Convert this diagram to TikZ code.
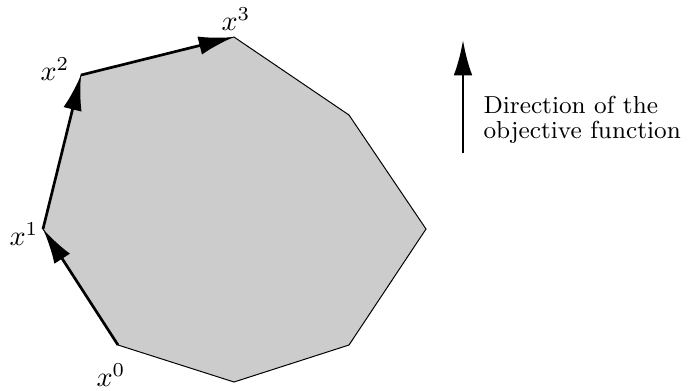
\documentclass[tikz,border=0pt]{standalone}
\usetikzlibrary{arrows.meta}
\begin{document}
\begin{tikzpicture}[x=0.354pt, y=-0.354pt,
    step arrow/.style={line width=0.95pt, -{Latex[length=12.5pt, width=6.6pt]}}]
            \useasboundingbox (0,0) rectangle (693,390);
            \coordinate (x0) at (118,345);
            \coordinate (x1) at (43,229);
            \coordinate (x2) at (81,75);
            \coordinate (x3) at (234,37);
            \filldraw[fill=gray!40, line width=0.35pt]
              (x3) -- (349,115) -- (426,229) -- (349,345) -- (234,382) --
              (x0) -- (x1) -- (x2) -- cycle;
            \draw[step arrow] (x0) -- (x1);
            \draw[step arrow] (x1) -- (x2);
            \draw[step arrow] (x2) -- (x3);
            \node (l0) at (111,375) {\( x^0 \)};
            \node (l1) at (24,234) {\( x^1 \)};
            \node (l2) at (55,69) {\( x^2 \)};
            \node (l3) at (236,19) {\( x^3 \)};
            \coordinate (d0) at (463,153);
            \coordinate (d1) at (463,40);
            \draw[step arrow] (d0) -- (d1);
            \node[anchor=west, align=left, inner sep=0pt,
              font={\fontsize{8.7}{9}\selectfont}] (dir) at (483,120)
              {Direction of the\\objective function};
          \end{tikzpicture}
\end{document}
